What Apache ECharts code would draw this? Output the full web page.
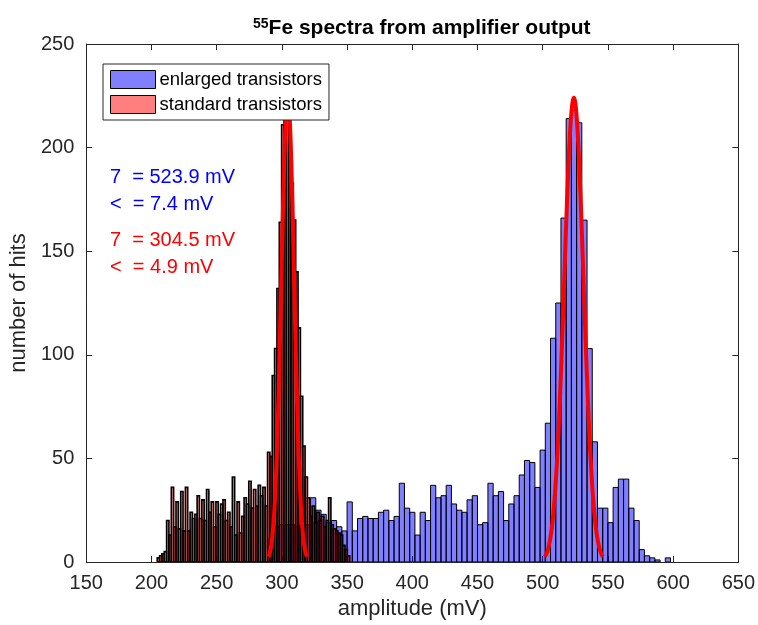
<!DOCTYPE html>
<html>
<head>
<meta charset="utf-8">
<script src="https://cdn.jsdelivr.net/npm/echarts@6/dist/echarts.min.js"></script>
<style>
html, body { margin: 0; padding: 0; background: #fff; }
#chart { width: 758px; height: 625px; }
</style>
</head>
<body>
<div id="chart"></div>
<script>
// histogram bins: left edge of first bin + bin width, then counts per bin
var blueStart = 290, blueWidth = 4;
var blueCounts = [12, 17, 18, 18, 18, 17, 18, 18, 31, 25, 23, 19, 20, 17, 15, 29,
  15, 21, 22, 21, 21, 24, 25, 20, 22, 38, 26, 24, 13, 24, 20, 37, 31, 32, 37, 28,
  25, 24, 30, 32, 18, 19, 38, 32, 34, 20, 28, 32, 42, 49, 48, 36, 54, 67, 108, 125,
  166, 214, 218, 212, 165, 103, 58, 26, 26, 19, 36, 40, 40, 26, 20, 6, 3, 2, 1, 0, 2];

var redStart = 204.4, redWidth = 1.8;
var redCounts = [2, 3, 4, 5, 20, 13, 36, 17, 29, 16, 34, 15, 36, 15, 24, 21, 23,
  32, 21, 30, 20, 35, 24, 29, 17, 29, 23, 28, 30, 20, 24, 17, 41, 13, 29, 14, 22,
  31, 28, 39, 26, 35, 27, 37,
  32, 36, 27, 53, 51, 90, 103, 132, 164, 211, 226, 232, 210, 183, 165, 140, 113, 80, 56, 41, 31,
  22, 27, 19, 24, 20, 22, 17, 20, 31, 18, 16, 15, 14, 13, 8, 6, 3];

// gaussian fit curves
var blueFitX = [501.7, 502.9, 503.9, 504.9, 505.9, 506.9, 507.9, 508.9, 509.9, 510.9, 511.9,
  512.9, 513.9, 514.9, 515.9, 516.9, 517.9, 518.9, 519.9, 520.9, 521.9, 522.9, 523.9,
  524.9, 525.9, 526.9, 527.9, 528.9, 529.9, 530.9, 531.9, 532.9, 533.9, 534.9, 535.9,
  536.9, 537.9, 538.9, 539.9, 540.9, 541.9, 542.9, 543.9, 544.9, 546.1];
var blueFitY = [2.5, 4.0, 5.8, 8.3, 11.6, 16.0, 21.6, 28.7, 37.4, 47.9, 60.1, 74.2, 89.9,
  106.9, 124.9, 143.2, 161.3, 178.3, 193.6, 206.3, 216.0, 222.0, 224.0, 222.0, 216.0,
  206.3, 193.6, 178.3, 161.3, 143.2, 124.9, 106.9, 89.9, 74.2, 60.1, 47.9, 37.4, 28.7,
  21.6, 16.0, 11.6, 8.3, 5.8, 4.0, 2.5];

var redFitX = [289.8, 290.5, 291.5, 292.5, 293.5, 294.5, 295.5, 296.5, 297.5, 298.5, 299.5,
  300.5, 301.5, 302.5, 303.5, 304.5, 305.5, 306.5, 307.5, 308.5, 309.5, 310.5, 311.5,
  312.5, 313.5, 314.5, 315.5, 316.5, 317.5, 318.5, 319.2];
var redFitY = [2.5, 3.8, 6.7, 11.2, 18.1, 28.0, 41.6, 59.3, 81.1, 106.3, 133.7, 161.2,
  186.5, 207.0, 220.4, 225.0, 220.4, 207.0, 186.5, 161.2, 133.7, 106.3, 81.1, 59.3,
  41.6, 28.0, 18.1, 11.2, 6.7, 3.8, 2.5];

var xTicks = [150, 200, 250, 300, 350, 400, 450, 500, 550, 600, 650];
var yTicks = [0, 50, 100, 150, 200, 250];

var annotations = [
  { text: '7  = 523.9 mV', color: '#0000ff', y: 177 },
  { text: '<  = 7.4 mV', color: '#0000ff', y: 204 },
  { text: '7  = 304.5 mV', color: '#ff0000', y: 240 },
  { text: '<  = 4.9 mV', color: '#ff0000', y: 267 }
];

var axisColor = '#262626';
var font = 'Liberation Sans, Arial, sans-serif';

function toBins(start, width, counts) {
  return counts.map(function (c, i) { return [start + i * width, c]; });
}

function histItem(width, fill, edge) {
  return function (params, api) {
    var x0 = api.value(0), n = api.value(1);
    if (!n) return null;
    var a = api.coord([x0, n]);
    var b = api.coord([x0 + width, 0]);
    return {
      type: 'rect',
      shape: { x: a[0], y: a[1], width: b[0] - a[0], height: b[1] - a[1] },
      style: { fill: fill, stroke: '#000', lineWidth: edge }
    };
  };
}

function zip(xs, ys) {
  return xs.map(function (x, i) { return [x, ys[i]]; });
}

var myChart = echarts.init(document.getElementById('chart'));

var tickStyle = { inside: true, length: 6, lineStyle: { color: axisColor } };
var lineStyle = { show: true, onZero: false, lineStyle: { color: axisColor, width: 1 } };

var option = {
  animation: false,
  backgroundColor: '#fff',
  title: {
    left: 248,
    top: 12,
    text: '{sup|55}{t|Fe spectra from amplifier output}',
    textStyle: {
      rich: {
        sup: { fontFamily: font, fontSize: 14, fontWeight: 'bold', color: '#000', padding: [0, 0, 9, 0] },
        t: { fontFamily: font, fontSize: 21, fontWeight: 'bold', color: '#000' }
      }
    }
  },
  grid: { left: 85, right: 18, top: 44, bottom: 63 },
  legend: {
    left: 103,
    top: 64,
    z: 20,
    orient: 'vertical',
    data: ['enlarged transistors', 'standard transistors'],
    icon: 'rect',
    itemWidth: 45,
    itemHeight: 18,
    itemGap: 6,
    padding: [6, 7, 6, 7],
    backgroundColor: '#fff',
    borderColor: axisColor,
    borderWidth: 1,
    itemStyle: { borderColor: '#000', borderWidth: 1 },
    textStyle: { fontFamily: font, fontSize: 18.5, color: '#000', lineHeight: 18, padding: [0, 0, 0, -1] }
  },
  xAxis: [{
    type: 'value',
    min: xTicks[0], max: xTicks[xTicks.length - 1], interval: 50,
    name: 'amplitude (mV)', nameLocation: 'middle', nameGap: 33,
    nameTextStyle: { fontFamily: font, fontSize: 22, color: axisColor },
    axisLine: lineStyle, axisTick: tickStyle,
    axisLabel: { fontFamily: font, fontSize: 20, color: axisColor, margin: 11 },
    splitLine: { show: false }
  }, {
    type: 'value', position: 'top',
    min: xTicks[0], max: xTicks[xTicks.length - 1], interval: 50,
    axisLine: lineStyle, axisTick: tickStyle,
    axisLabel: { show: false }, splitLine: { show: false }
  }],
  yAxis: [{
    type: 'value',
    min: yTicks[0], max: yTicks[yTicks.length - 1], interval: 50,
    name: 'number of hits', nameLocation: 'middle', nameGap: 44,
    nameTextStyle: { fontFamily: font, fontSize: 22, color: axisColor },
    axisLine: lineStyle, axisTick: tickStyle,
    axisLabel: { fontFamily: font, fontSize: 20, color: axisColor, margin: 12 },
    splitLine: { show: false }
  }, {
    type: 'value', position: 'right',
    min: yTicks[0], max: yTicks[yTicks.length - 1], interval: 50,
    axisLine: lineStyle, axisTick: tickStyle,
    axisLabel: { show: false }, splitLine: { show: false }
  }],
  graphic: annotations.map(function (a) {
    return {
      type: 'text',
      z: 100,
      style: {
        x: 110, y: a.y, text: a.text, fill: a.color,
        font: '20px ' + font, verticalAlign: 'middle'
      }
    };
  }),
  series: [
    {
      name: 'enlarged transistors',
      type: 'custom',
      renderItem: histItem(blueWidth, 'rgba(0,0,255,0.5)', 1),
      itemStyle: { color: 'rgba(0,0,255,0.5)' },
      encode: { x: 0, y: 1 },
      clip: true,
      z: 2,
      data: toBins(blueStart, blueWidth, blueCounts)
    },
    {
      name: 'standard transistors',
      type: 'custom',
      renderItem: histItem(redWidth, 'rgba(255,0,0,0.5)', 1.6),
      itemStyle: { color: 'rgba(255,0,0,0.5)' },
      encode: { x: 0, y: 1 },
      clip: true,
      z: 2,
      data: toBins(redStart, redWidth, redCounts)
    },
    {
      type: 'line',
      data: zip(blueFitX, blueFitY),
      showSymbol: false,
      smooth: 0.3,
      z: 3,
      lineStyle: { color: '#ff0000', width: 4 }
    },
    {
      type: 'line',
      data: zip(redFitX, redFitY),
      showSymbol: false,
      smooth: 0.3,
      z: 3,
      lineStyle: { color: '#ff0000', width: 4 }
    }
  ]
};

myChart.setOption(option);
</script>
</body>
</html>
